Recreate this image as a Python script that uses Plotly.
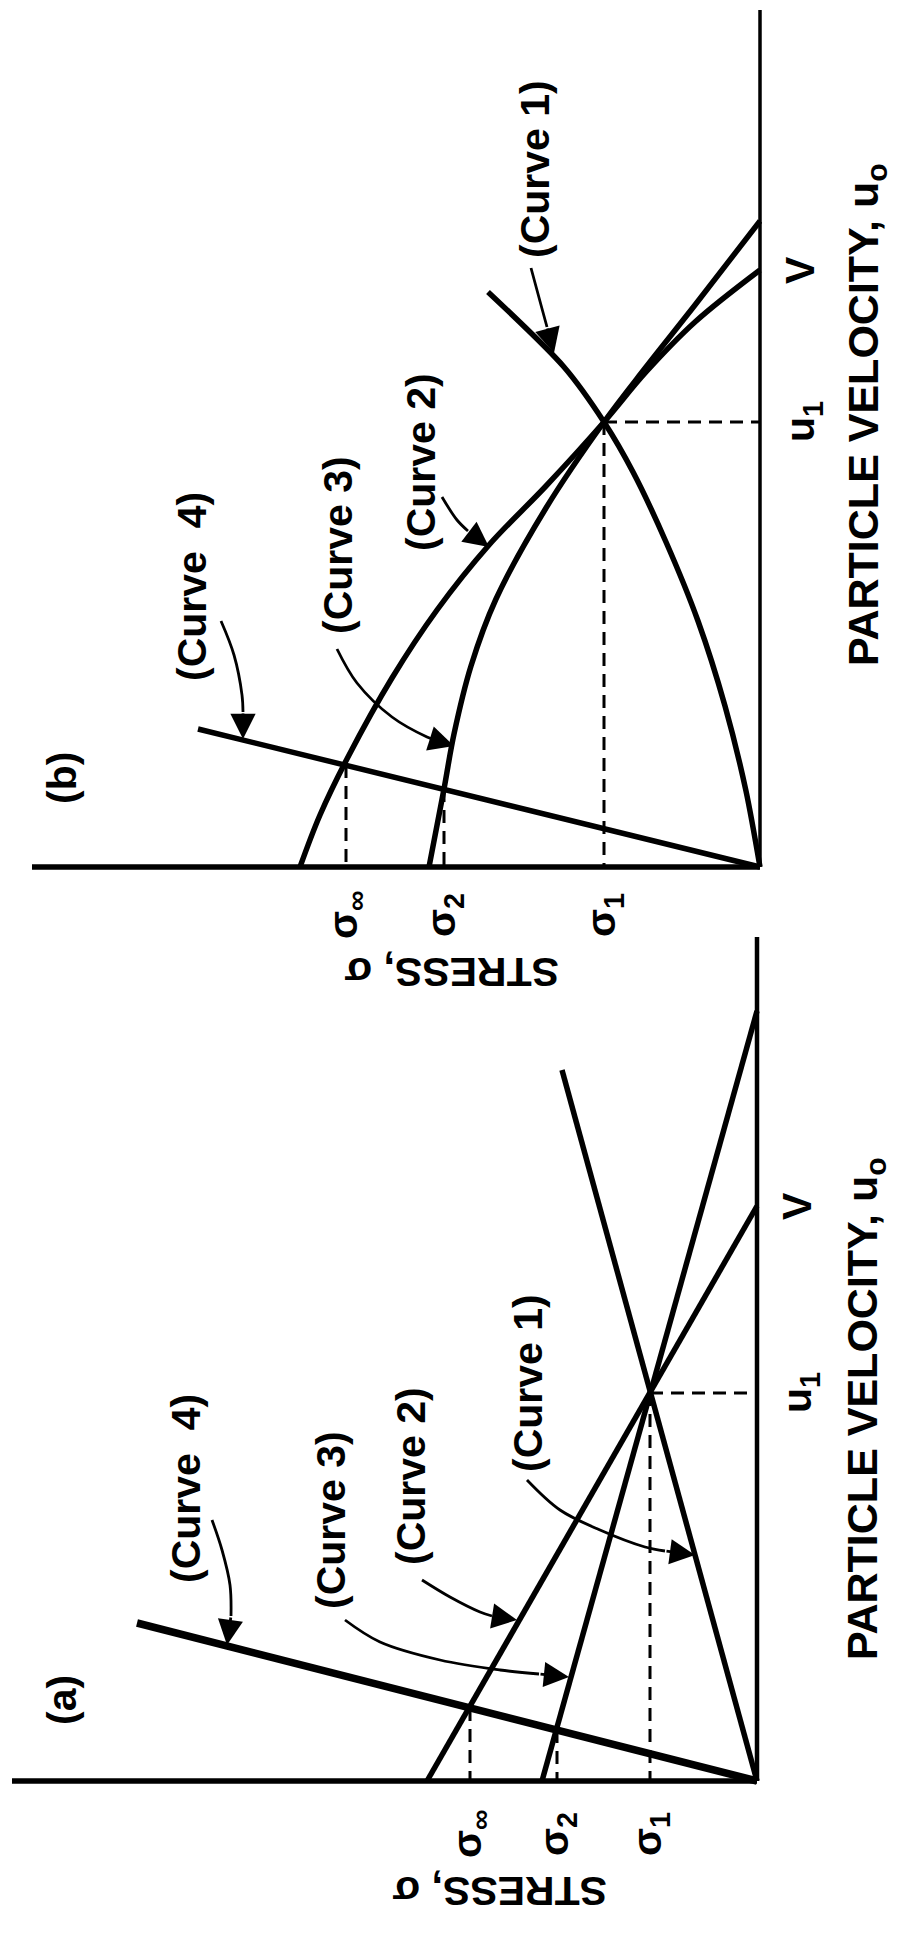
import plotly.graph_objects as go

# ---------------- Panel (a): straight-line (linear) construction ----------------
# stress (sigma) and particle velocity (u), arbitrary units
a_curve1_u = [0, 711]
a_curve1_s = [0, 195]
a_curve2_u = [575, 0]
a_curve2_s = [0, 330]
a_curve3_u = [770, 0]
a_curve3_s = [0, 215]
a_curve4_u = [0, 158]
a_curve4_s = [0, 620]
a_u_axis_top = 844
a_s_axis_end = 745
a_u1 = 388
a_V = 575
a_sigma_ticks = [287, 200, 107]      # sigma_inf, sigma_2, sigma_1
a_sigma_drop_u = [73, 51, 388]       # velocity where each dashed drop starts

# ---------------- Panel (b): curved Hugoniot construction ----------------
b_curve1_u = [0, 76, 161, 246, 325, 395, 445, 500, 575]
b_curve1_s = [0, 14, 35, 62, 94, 127, 156, 196, 272]
b_curve2_u = [597, 545, 495, 445, 381, 322, 257, 189, 110, 52, 0]
b_curve2_s = [0, 65, 114, 156, 214, 271, 323, 368, 412, 440, 460]
b_curve3_u = [646, 562, 500, 445, 359, 268, 201, 133, 78, 0]
b_curve3_s = [0, 65, 114, 156, 214, 264, 289, 306, 316, 331]
b_curve4_u = [0, 138]
b_curve4_s = [0, 562]
b_u_axis_top = 857
b_s_axis_end = 728
b_u1 = 445
b_V = 597
b_sigma_ticks = [414, 316, 156]
b_sigma_drop_u = [102, 78, 445]

sigma_labels = ["σ<sub>∞</sub>", "σ<sub>2</sub>", "σ<sub>1</sub>"]
curve_names = ["(Curve 1)", "(Curve 2)", "(Curve 3)", "(Curve\u00a0 4)"]

W, H = 907, 1935
FONT = dict(family="Liberation Sans", size=41, color="black", weight="bold")

fig = go.Figure()


def line(xs, ys, panel, width=5.5, dash=None, shape="linear", smoothing=1.0):
    xa, ya = ("x", "y") if panel == "a" else ("x2", "y2")
    fig.add_trace(go.Scatter(
        x=xs, y=ys, xaxis=xa, yaxis=ya, mode="lines",
        line=dict(color="black", width=width, dash=dash, shape=shape, smoothing=smoothing),
        hoverinfo="skip", showlegend=False))


def text(s, u, label, panel, angle=-90, size=41):
    xa, ya = ("x", "y") if panel == "a" else ("x2", "y2")
    fig.add_annotation(x=s, y=u, xref=xa, yref=ya, text=label, showarrow=False,
                       textangle=angle, font=dict(FONT, size=size),
                       xanchor="center", yanchor="middle")


def leader(path, tip, panel):
    xa, ya = ("x", "y") if panel == "a" else ("x2", "y2")
    line([p[0] for p in path], [p[1] for p in path], panel, width=2.8, shape="spline")
    last = path[-1]
    fig.add_annotation(x=tip[0], y=tip[1], ax=last[0], ay=last[1], xref=xa, yref=ya,
                       axref=xa, ayref=ya, text="", showarrow=True, arrowhead=2,
                       arrowsize=1.8, arrowwidth=2.8, arrowcolor="black", standoff=0)


DASH = "13px,8px"

# ---- panel (a) ----
line([0, a_s_axis_end], [0, 0], "a", width=5.5)
line([0, 0], [0, a_u_axis_top], "a", width=4.5)
line(a_curve1_s, a_curve1_u, "a")
line(a_curve2_s, a_curve2_u, "a")
line(a_curve3_s, a_curve3_u, "a")
line(a_curve4_s, a_curve4_u, "a", width=7.5)
for s, u in zip(a_sigma_ticks, a_sigma_drop_u):
    line([s, s], [u, 0], "a", width=3, dash=DASH)
line([a_sigma_ticks[2], 0], [a_u1, a_u1], "a", width=3, dash=DASH)

for s, lab in zip(a_sigma_ticks, sigma_labels):
    text(s, -53, lab, "a")
text(-43, a_u1, "u<sub>1</sub>", "a")
text(-40, a_V, "V", "a")
text(257, -110, "STRESS, σ", "a", angle=180)
text(-108, 372, "PARTICLE VELOCITY, u<sub>o</sub>", "a", size=43)
text(695, 81, "(a)", "a")
text(229, 398, curve_names[0], "a")
text(346, 305, curve_names[1], "a")
text(426, 261, curve_names[2], "a")
text(571, 292, curve_names[3], "a")

leader([(545, 261), (535, 231), (527, 196), (526, 165)], (530, 136), "a")
leader([(412, 161), (377, 139), (317, 121), (257, 111), (218, 107)], (188, 104), "a")
leader([(335, 201), (307, 184), (277, 169), (265, 165)], (240, 161), "a")
leader([(230, 301), (197, 271), (157, 251), (112, 234), (92, 230)], (62, 226), "a")

# ---- panel (b) ----
line([0, b_s_axis_end], [0, 0], "b", width=5.5)
line([0, 0], [0, b_u_axis_top], "b", width=3.5)
line(b_curve1_s, b_curve1_u, "b", shape="spline", smoothing=0.8)
line(b_curve2_s, b_curve2_u, "b", shape="spline")
line(b_curve3_s, b_curve3_u, "b", shape="spline")
line(b_curve4_s, b_curve4_u, "b", width=5.5)
for s, u in zip(b_sigma_ticks, b_sigma_drop_u):
    line([s, s], [u, 0], "b", width=3, dash=DASH)
line([b_sigma_ticks[2], 0], [b_u1, b_u1], "b", width=3, dash=DASH)

for s, lab in zip(b_sigma_ticks, sigma_labels):
    text(s, -48, lab, "b")
text(-43, b_u1, "u<sub>1</sub>", "b")
text(-40, b_V, "V", "b")
text(308, -105, "STRESS, σ", "b", angle=180)
text(-106, 452, "PARTICLE VELOCITY, u<sub>o</sub>", "b", size=43)
text(698, 89, "(b)", "b")
text(225, 698, curve_names[0], "b")
text(339, 405, curve_names[1], "b")
text(422, 322, curve_names[2], "b")
text(568, 280, curve_names[3], "b")

leader([(539, 246), (526, 212), (518, 172), (517, 155)], (517, 128), "b")
leader([(423, 218), (403, 184), (368, 150), (333, 130), (325, 127)], (306, 121), "b")
leader([(318, 370), (303, 347), (292, 336)], (271, 320), "b")
leader([(229, 599), (219, 562), (213, 540)], (206, 514), "b")

# ---- axes: both panels share the full page, 1 unit = 1 pixel ----
a_origin = (757, 1781)
b_origin = (760, 867)
ax_common = dict(visible=False, domain=[0, 1], fixedrange=True)
fig.update_layout(
    width=W, height=H, margin=dict(l=0, r=0, t=0, b=0),
    paper_bgcolor="white", plot_bgcolor="rgba(0,0,0,0)",
    xaxis=dict(ax_common, range=[a_origin[0], a_origin[0] - W]),
    yaxis=dict(ax_common, range=[a_origin[1] - H, a_origin[1]]),
    xaxis2=dict(ax_common, range=[b_origin[0], b_origin[0] - W], overlaying="x"),
    yaxis2=dict(ax_common, range=[b_origin[1] - H, b_origin[1]], overlaying="y"),
)

fig.write_html("out.html")
